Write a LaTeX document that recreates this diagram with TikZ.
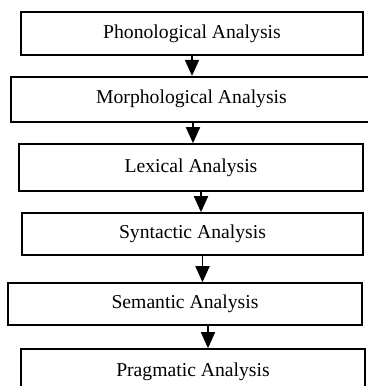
\documentclass[tikz,border=0pt]{standalone}
\usepackage{fontspec}
\setmainfont{Liberation Serif}
\usetikzlibrary{positioning}
\usetikzlibrary{arrows.meta}
\tikzset{
    stagebox/.style = {rectangle, draw=black, line width=1pt, inner sep=0pt, align=center, fill=white, font=\fontsize{11.8}{14}\selectfont, text=black},
    edgea/.style = {-{Triangle[length=9.6pt,width=8.4pt]}, line width=1.1pt, black},
}

\begin{document}
\begin{tikzpicture}[x=0.6pt,y=-0.6pt]
\clip (0,0) rectangle (368,386);
\node[stagebox,minimum width=205.2pt,minimum height=25.8pt] at (192.0, 33.5) (pho) {Phonological Analysis};
\node[stagebox,minimum width=216.6pt,minimum height=27.0pt] at (191.5, 99.2) (mor) {Morphological Analysis};
\node[stagebox,minimum width=206.4pt,minimum height=28.2pt] at (191.0,167.5) (lex) {Lexical Analysis};
\node[stagebox,minimum width=204.6pt,minimum height=25.2pt] at (192.5,234.0) (syn) {Syntactic Analysis};
\node[stagebox,minimum width=212.4pt,minimum height=25.2pt] at (185.0,304.0) (sem) {Semantic Analysis};
\node[stagebox,minimum width=206.4pt,minimum height=27.6pt] at (193.0,372.0) (pra) {Pragmatic Analysis};

\draw[edgea] (pho.south) -- (pho.south |- mor.north);
\draw[edgea] ([xshift=0.9pt]mor.south) -- ([xshift=0.9pt]mor.south |- lex.north);
\draw[edgea] ([xshift=6pt]lex.south) -- ([xshift=6pt]lex.south |- syn.north);
\draw[edgea] ([xshift=6pt]syn.south) -- ([xshift=6pt]syn.south |- sem.north);
\draw[edgea] ([xshift=13.8pt]sem.south) -- ([xshift=13.8pt]sem.south |- pra.north);

\end{tikzpicture}
\end{document}
